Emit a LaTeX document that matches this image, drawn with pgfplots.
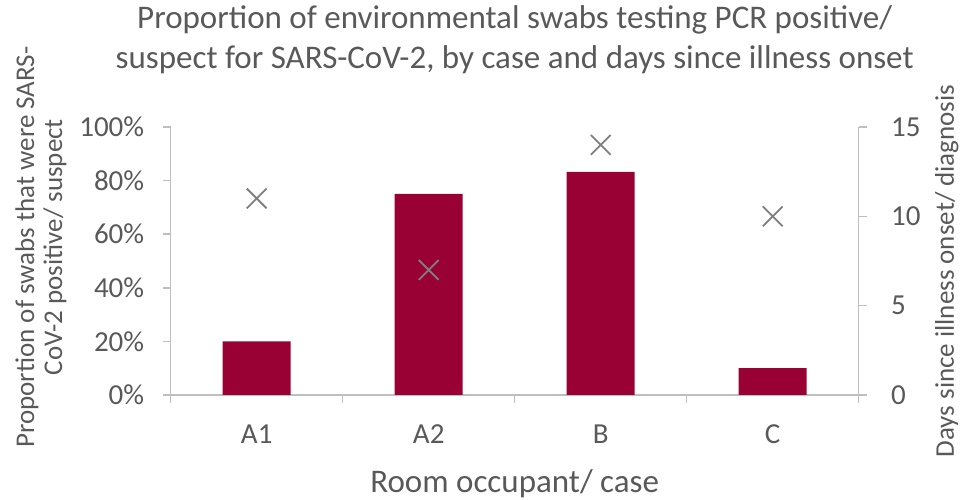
\documentclass[border=0pt]{standalone}
\usepackage{pgfplots}
\pgfplotsset{compat=1.18}
\usepackage{fontspec}
\setmainfont{Carlito}
\definecolor{barred}{HTML}{990033}
\definecolor{txt}{HTML}{595959}
\definecolor{axl}{HTML}{BFBFBF}
\definecolor{mk}{HTML}{7F7F7F}
\begin{document}
\begin{tikzpicture}
\path[use as bounding box] (-170.7pt,-105pt) rectangle (790.3pt,395pt);
\begin{axis}[
  name=main,
  scale only axis, width=688pt, height=268pt,
  xmin=0.5, xmax=4.5, ymin=0, ymax=100,
  axis x line*=bottom, axis y line*=left,
  axis line style={axl, line width=1.5pt, -},
  xtick={1,2,3,4}, xticklabels={A1,A2,B,C},
  x tick style={draw=none},
  minor xtick={0.5,1.5,2.5,3.5,4.5},
  minor x tick style={draw=axl, line width=1.5pt},
  ytick={0,20,40,60,80,100},
  yticklabels={0\%,20\%,40\%,60\%,80\%,100\%},
  y tick style={draw=axl, line width=1.5pt},
  tick align=outside, major tick length=8pt, minor tick length=8pt,
  ticklabel style={font=\fontsize{29}{34}\selectfont, text=txt},
  xticklabel style={anchor=base, yshift=-40pt},
  yticklabel style={anchor=east, xshift=-15pt},
  title={Proportion of environmental swabs testing PCR positive/\\suspect for SARS-CoV-2, by case and days since illness onset},
  title style={font=\fontsize{33}{40}\selectfont, text=txt, align=center, anchor=base, at={(axis description cs:0.5,1)}, yshift=52pt},
  xlabel={Room occupant/ case},
  xlabel style={font=\fontsize{33}{40}\selectfont, text=txt, anchor=base, at={(axis description cs:0.5,0)}, yshift=-97pt},
  ylabel={Proportion of swabs that were SARS-\\CoV-2 positive/ suspect},
  ylabel style={font=\fontsize{27}{28}\selectfont, text=txt, align=center, anchor=center, rotate=0, at={(axis description cs:-0.1885,0.552)}},
  clip=false,
]
\addplot[ybar, bar width=68pt, fill=barred, draw=none] coordinates {(1,20) (2,75) (3,83.3) (4,10)};
\end{axis}
\begin{axis}[
  scale only axis, width=688pt, height=268pt,
  xmin=0.5, xmax=4.5, ymin=0, ymax=15,
  axis x line=none, axis y line*=right,
  axis line style={axl, line width=1.5pt, -},
  ytick={0,5,10,15},
  y tick style={draw=axl, line width=1.5pt},
  tick align=outside, major tick length=8pt,
  ticklabel style={font=\fontsize{29}{34}\selectfont, text=txt},
  /pgf/number format/assume math mode=true,
  yticklabel style={anchor=west, xshift=21pt},
  ylabel={Days since illness onset/ diagnosis},
  ylabel style={font=\fontsize{27}{28}\selectfont, text=txt, anchor=center, rotate=0, at={(axis description cs:1.128,0.463)}},
  clip=false,
]
\addplot[only marks, mark=x, mark size=14pt, mk, line width=1.8pt] coordinates {(1,11) (2,7) (3,14) (4,10)};
\end{axis}
\end{tikzpicture}
\end{document}
